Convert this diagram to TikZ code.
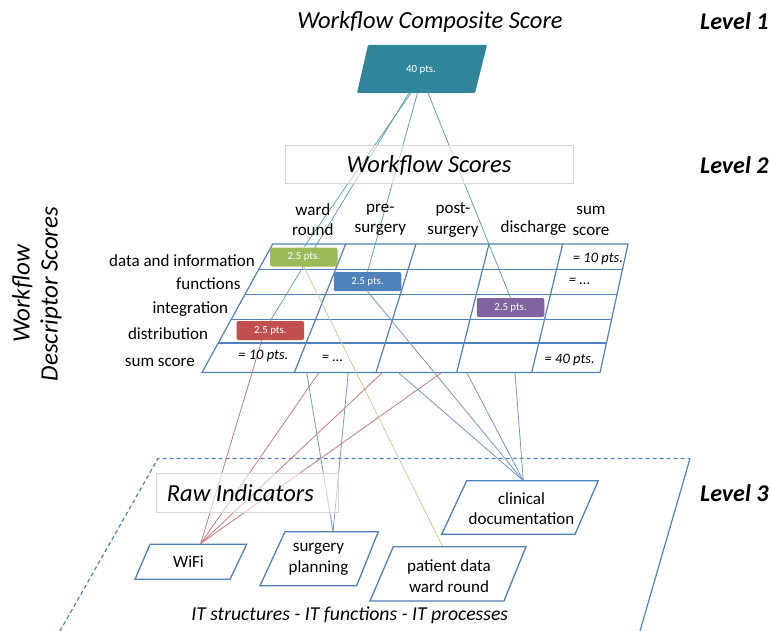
\documentclass[tikz,border=0pt]{standalone}
\usepackage{fontspec}
\setmainfont{Carlito}
\usetikzlibrary{calc}

\definecolor{gridblue}{RGB}{79,129,189}
\definecolor{tealbox}{RGB}{49,133,155}
\definecolor{tealline}{RGB}{95,162,180}
\definecolor{redline}{RGB}{204,120,116}
\definecolor{blueline}{RGB}{112,152,204}
\definecolor{greenline}{RGB}{190,212,150}
\definecolor{boxgreen}{RGB}{155,187,89}
\definecolor{boxblue}{RGB}{79,129,189}
\definecolor{boxpurple}{RGB}{128,100,162}
\definecolor{boxred}{RGB}{192,80,77}
\definecolor{framegray}{RGB}{214,214,214}

\tikzset{
  lbl/.style={font=\fontsize{17}{20.5}\selectfont, inner sep=0pt},
  hdr/.style={lbl, align=center},
  sumtxt/.style={font=\fontsize{14.5}{17}\selectfont\itshape, inner sep=0pt},
  scorebox/.style={rectangle, rounded corners=2pt, minimum width=67.5pt,
    minimum height=19pt, inner sep=0pt, text=white,
    font=\fontsize{10.8}{13}\selectfont},
  level/.style={font=\fontsize{24}{28}\selectfont\bfseries\itshape,
    inner sep=0pt, anchor=west},
  heading/.style={font=\fontsize{24.5}{28}\selectfont\itshape, inner sep=0pt},
  plate/.style={draw=gridblue, line width=1.3pt, fill=white},
  gridline/.style={draw=gridblue, line width=1.2pt},
  link/.style={line width=0.8pt},
  frame/.style={draw=framegray, line width=0.8pt, fill=white, fill opacity=0.55},
}

\begin{document}
\begin{tikzpicture}[x=1pt, y=-1pt]
\useasboundingbox (0,0) rectangle (771,631);

% ---------- level 3 plane ----------
\draw[gridblue, line width=1.2pt, dash pattern=on 4pt off 3pt]
  (60,631) -- (158,458.5) -- (690,458.5);
\draw[gridblue, line width=1.2pt] (690,458.5) -- (640,631);

% ---------- descriptor grid ----------
\coordinate (t0) at (272.7,244);  \coordinate (b0) at (202,372.5);
\coordinate (t1) at (345.7,244);  \coordinate (b1) at (294.3,372.5);
\coordinate (t2) at (416,244);    \coordinate (b2) at (376,372.5);
\coordinate (t3) at (489,244);    \coordinate (b3) at (456.7,372.5);
\coordinate (t4) at (562.7,244);  \coordinate (b4) at (531.7,372.5);
\coordinate (t5) at (628,244);    \coordinate (b5) at (600,372.5);

\draw[gridline] (t0) -- (t5) -- (b5) -- (b0) -- cycle;
\foreach \j in {1,2,3,4} \draw[gridline] (t\j) -- (b\j);
\foreach \f in {0.197,0.392,0.586,0.771}
  \draw[gridline] ($(t0)!\f!(b0)$) -- ($(t5)!\f!(b5)$);

% ---------- composite score (level 1) ----------
\fill[tealbox, rounded corners=1pt] (357,93) -- (475,93) -- (487,45) -- (368,45) -- cycle;
\node[text=white, font=\fontsize{10.9}{13}\selectfont, inner sep=0pt]
  (composite) at (421,69.5) {40 pts.};
\coordinate (cR) at (409,93);
\coordinate (cG) at (411,93);
\coordinate (cB) at (417.5,93);
\coordinate (cP) at (428,93);

% ---------- descriptor score boxes (positions only) ----------
\coordinate (gpos) at (303.8,257);
\coordinate (bpos) at (367.5,281.7);
\coordinate (ppos) at (510.5,307.5);
\coordinate (rpos) at (270.3,330.5);

% ---------- raw indicator plates: connection points ----------
\coordinate (wifiTop) at (200.7,543.5);
\coordinate (surgTop) at (333,531.7);
\coordinate (clinTop) at (523.3,480.7);
\coordinate (patTop)  at (442.7,546.7);

% grid bottom edge starting points
\coordinate (rA) at (319,372.5);
\coordinate (rB) at (382.5,372.5);
\coordinate (rC) at (441.7,372.5);
\coordinate (sA) at (306.7,372.5);
\coordinate (sB) at (348.3,372.5);
\coordinate (kA) at (398.3,372.5);
\coordinate (kB) at (466.7,372.5);
\coordinate (kC) at (515,372.5);

% score box nodes (invisible, used as anchors)
\node[scorebox] (green)  at (gpos) {};
\node[scorebox] (blue)   at (bpos) {};
\node[scorebox] (purple) at (ppos) {};
\node[scorebox] (red)    at (rpos) {};

% ---------- connectors ----------
\draw[link, tealline] (cG) -- (green.north);
\draw[link, tealline] (cR) -- (red.north);
\draw[link, tealline] (cB) -- (blue.north);
\draw[link, tealline] (cP) -- (purple.north);

\draw[link, greenline] (green.south) -- (patTop);
\draw[link, blueline] (blue.south) -- (clinTop);
\draw[link, redline] ([xshift=-8.5pt]red.south) -- (wifiTop);

\foreach \p in {rA,rB,rC} \draw[link, redline] (\p) -- (wifiTop);
\foreach \p in {sA,sB} \draw[link, blueline] (\p) -- (surgTop);
\foreach \p in {kA,kB,kC} \draw[link, blueline] (\p) -- (clinTop);

% ---------- title frames ----------
\draw[frame] (285,145) rectangle (573,183);
\node[heading] (wfs) at (429,165) {Workflow Scores};
\draw[frame] (156.7,473.3) rectangle (338.3,512.3);
\node[heading, anchor=west] (raw) at (166.7,493) {Raw Indicators};

% ---------- score boxes ----------
\node[scorebox, fill=boxgreen]  at (green)  {2.5 pts.};
\node[scorebox, fill=boxblue]   at (blue)   {2.5 pts.};
\node[scorebox, fill=boxpurple] at (purple) {2.5 pts.};
\node[scorebox, fill=boxred]    at (red)    {2.5 pts.};

% ---------- raw indicator plates ----------
\draw[plate] (150,544.3) -- (246.7,544.3) -- (230,579.3) -- (135,579.3) -- cycle;
\node[lbl] (wifi) at (188.5,562) {WiFi};
\draw[plate] (285,531.7) -- (378.3,531.7) -- (356.7,585.7) -- (260,585.7) -- cycle;
\node[hdr] (surg) at (318.5,559.5) {surgery\\planning};
\draw[plate] (466.7,480.7) -- (598.3,480.7) -- (575,534.3) -- (441.7,534.3) -- cycle;
\node[hdr] (clin) at (521.5,508.5) {clinical\\documentation};
\draw[plate] (393.3,546.7) -- (526,546.7) -- (504,601) -- (370,601) -- cycle;
\node[hdr] (pat) at (449,576) {patient data\\ward round};

\node[heading, font=\fontsize{19.7}{24}\selectfont\itshape] (itline) at (349.7,615.5)
  {IT structures - IT functions - IT processes};

% ---------- grid texts ----------
\node[hdr] (hWard) at (312.8,219.5) {ward\\round};
\node[hdr] (hPre)  at (380.3,220)   {pre-\\surgery};
\node[hdr] (hPost) at (453,220)     {post-\\surgery};
\node[lbl] (hDis)  at (533.5,228)   {discharge};
\node[hdr] (hSum)  at (591,221)     {sum\\score};

\node[lbl, anchor=base east] (rData) at (255,266)   {data and information};
\node[lbl, anchor=base east] (rFun)  at (240.7,289.3) {functions};
\node[lbl, anchor=base east] (rInt)  at (228.3,313.3) {integration};
\node[lbl, anchor=base east] (rDis)  at (208.3,339.3) {distribution};
\node[lbl, anchor=base east] (rSum)  at (195,366)   {sum score};

\node[sumtxt] (s1) at (598,259.3) {= 10 pts.};
\node[sumtxt] (s2) at (579.7,281.7) {= ...};
\node[sumtxt] (s3) at (263.3,356) {= 10 pts.};
\node[sumtxt] (s4) at (332.5,358) {= ...};
\node[sumtxt] (s5) at (569.7,360) {= 40 pts.};

% ---------- headings ----------
\node[heading] (title) at (430,21.5) {Workflow Composite Score};
\node[heading, font=\fontsize{25}{28}\selectfont\itshape, rotate=90, align=center]
  (wds) at (37,294) {Workflow\\Descriptor Scores};

\node[level] (L1) at (700,21.5) {Level 1};
\node[level] (L2) at (700,165)  {Level 2};
\node[level] (L3) at (700,493)  {Level 3};
\end{tikzpicture}
\end{document}
